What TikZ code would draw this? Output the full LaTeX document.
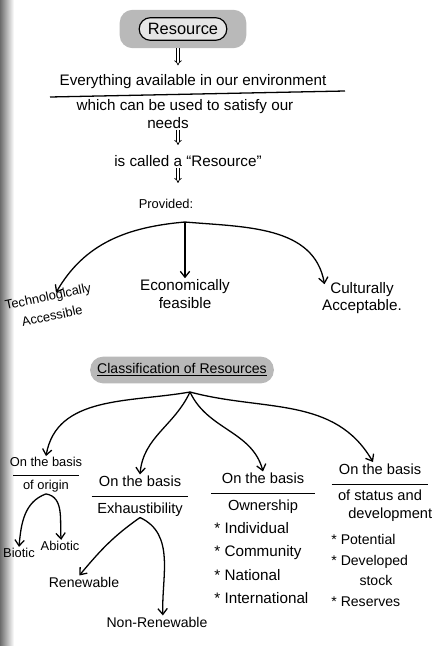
\documentclass[tikz,border=0pt]{standalone}
\usepackage{fontspec}
\setmainfont{Liberation Sans}
\usetikzlibrary{positioning, arrows.meta, shapes.misc}

\newcommand{\basisof}[2]{On the basis\\[-0.9ex]\rule{#1}{0.9pt}\\[-0.2ex]#2}

\begin{document}
\begin{tikzpicture}[
    x=0.03cm, y=-0.03cm,
    every node/.style={font=\fontsize{13}{15}\selectfont, inner sep=1pt},
    shadebox/.style={fill=gray!55, rounded corners=11pt, inner sep=5pt},
    arrow/.style={-{Straight Barb[length=5pt, width=8pt]}, line width=1.1pt},
    dblarrow/.style={double, double distance=1.6pt, line width=0.6pt, -{Implies}},
    rulestyle/.style={line width=1.1pt},
    basis/.style={align=center, font=\fontsize{12.5}{15}\selectfont},
    list/.style={align=left, font=\fontsize{13}{20}\selectfont},
    small/.style={font=\fontsize{11}{13}\selectfont}
]
    \useasboundingbox (0,0) rectangle (438,646);
    % binding edge of the page
    \shade[left color=gray!85!black, right color=white] (0,0) rectangle (14,646);

    % Heading
    \node[shadebox, minimum width=3.8cm, minimum height=1.15cm] (resbg) at (183,29) {};
    \node[draw, rounded rectangle, fill=gray!20, line width=1pt, minimum width=2.7cm,
          minimum height=0.68cm, font=\fontsize{14}{16}\selectfont] (res) at (resbg) {Resource};

    % Definition
    \node (def1) at (193,82) {Everything available in our environment};
    \node (def2) at (185,107) {which can be used to satisfy our};
    \node (def3) at (168,123) {needs};
    \coordinate (ulL) at (50,97);
    \coordinate (ulR) at (345,91);
    \draw[rulestyle] (ulL) -- (ulR);
    \node (called) at (188,161) {is called a ``Resource''};
    \node[small] (prov) at (166,204) {Provided:};
    \coordinate (fork1) at (185,222);

    \draw[dblarrow] (resbg.south -| 178,0) -- ++(0,17);
    \draw[dblarrow] (def3.south -| 178,0) -- ++(0,15);
    \draw[dblarrow] (called.south -| 178,0) -- ++(0,15);

    % Conditions
    \node[align=center, rotate=12, font=\fontsize{11}{17}\selectfont] (tech) at (50,306) {Technologically\\Accessible};
    \node[align=center] (econ) at (185,294) {Economically\\feasible};
    \node[align=center] (cult) at (362,298) {Culturally\\Acceptable.};

    \draw[arrow] (fork1) to[out=185, in=60] ([xshift=8pt, yshift=-2pt]tech.north);
    \draw[arrow] (fork1) -- (econ.north);
    \draw[arrow] (fork1) to[out=-5, in=100] ([xshift=-32pt, yshift=-3pt]cult.north);

    % Classification
    \node[shadebox, inner sep=6pt, font=\fontsize{12}{14}\selectfont] (cls) at (182,370) {\underline{Classification of Resources}};
    \coordinate (fork2) at (190,392);

    \node[basis, small] (origin) at (46,475) {\basisof{1.95cm}{of origin}};
    \node[basis] (exh) at (140,496) {\basisof{2.9cm}{Exhaustibility}};
    \node[basis] (own) at (263,493) {\basisof{3.1cm}{Ownership}};
    \node[basis, anchor=north] (stat) at (380,462) {\basisof{2.9cm}{of status and\\\hspace*{1.4em}development}};

    \draw[arrow] (fork2) to[out=190, in=80] (origin.north);
    \draw[arrow] (fork2) to[out=245, in=85] (exh.north);
    \draw[arrow] (fork2) to[out=-65, in=105] (own.north);
    \draw[arrow] (fork2) to[out=-15, in=120] ([xshift=-6pt]stat.north);

    % Origin
    \node[small] (biotic) at (19,553) {Biotic};
    \node[small] (abiotic) at (60,546) {Abiotic};
    \draw[arrow] (origin.south) to[out=200, in=85] (biotic.north);
    \draw[arrow] (origin.south) to[out=-10, in=95] ([xshift=1pt]abiotic.north);

    % Exhaustibility
    \node[font=\fontsize{12}{14}\selectfont] (ren) at (84,582) {Renewable};
    \node[font=\fontsize{12}{14}\selectfont] (nonren) at (157,622) {Non-Renewable};
    \draw[arrow] (exh.south) to[out=215, in=50] ([xshift=-4pt]ren.north);
    \draw[arrow] (exh.south) to[out=-25, in=92] ([xshift=5pt]nonren.north);

    % Ownership
    \node[list, anchor=north west] (ownlist) at (213,521) {* Individual\\* Community\\* National\\* International};

    % Status and development
    \node[list, anchor=north west, font=\fontsize{12}{17.5}\selectfont] (statlist) at (330,533)
        {* Potential\\* Developed\\\hspace*{2em}stock\\* Reserves};
\end{tikzpicture}
\end{document}
